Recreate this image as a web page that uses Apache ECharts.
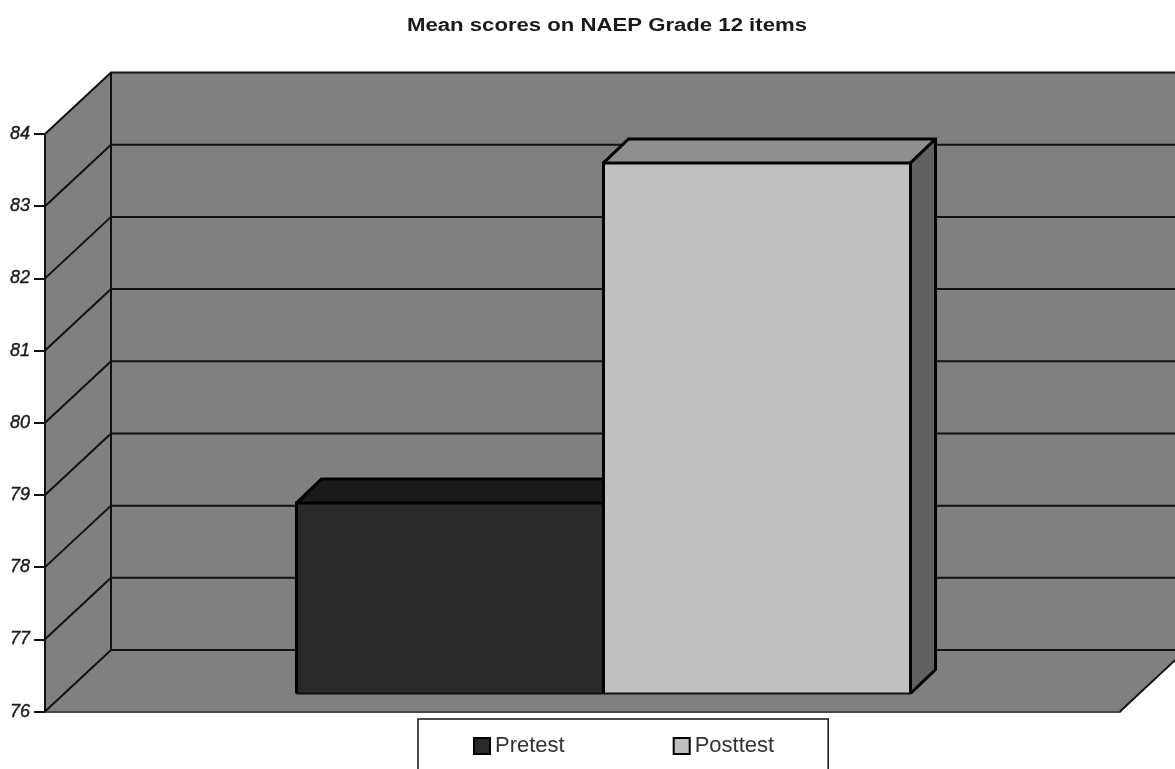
<!DOCTYPE html>
<html>
<head>
<meta charset="utf-8">
<title>Mean scores on NAEP Grade 12 items</title>
<script src="https://cdn.jsdelivr.net/npm/echarts@6/dist/echarts.min.js"></script>
<style>
  html, body { margin: 0; padding: 0; background: #fff; }
  #chart { width: 1175px; height: 769px; }
</style>
</head>
<body>
<div id="chart"></div>
<script>
const categories = ['Mean score'];
const pretest = [78.64];
const posttest = [83.35];
const tickValues = [76, 77, 78, 79, 80, 81, 82, 83, 84];

// fake 3D offsets, px
const wallDepth = [66, 61.5];
const barInset = [21, 18];
const barDepth = [25, 24];
const barShare = 307 / 1075;

const ink = '#111';

function renderWalls(params, api) {
  const band = api.size([1, 0])[0];
  const low = api.coord([0, tickValues[0]]);
  const high = api.coord([0, tickValues[tickValues.length - 1]]);
  const left = low[0] - band / 2;
  const right = left + band;
  const dx = wallDepth[0], dy = wallDepth[1];
  const fill = { fill: '#808080', stroke: null };
  const edge = { stroke: ink, lineWidth: 2 };
  return {
    type: 'group',
    children: [
      { type: 'polygon', shape: { points: [[left, high[1]], [left + dx, high[1] - dy], [left + dx, low[1] - dy], [left, low[1]]] }, style: fill },
      { type: 'polygon', shape: { points: [[left + dx, high[1] - dy], [right + dx, high[1] - dy], [right + dx, low[1] - dy], [left + dx, low[1] - dy]] }, style: fill },
      { type: 'polygon', shape: { points: [[left, low[1]], [right, low[1]], [right + dx, low[1] - dy], [left + dx, low[1] - dy]] }, style: fill },
      { type: 'line', shape: { x1: left, y1: low[1], x2: left, y2: high[1] }, style: edge },
      { type: 'line', shape: { x1: left + dx, y1: low[1] - dy, x2: left + dx, y2: high[1] - dy }, style: edge },
      { type: 'line', shape: { x1: right, y1: low[1], x2: right + dx, y2: low[1] - dy }, style: edge }
    ]
  };
}

function renderGridline(params, api) {
  const band = api.size([1, 0])[0];
  const p = api.coord([0, api.value(1)]);
  const left = p[0] - band / 2;
  const dx = wallDepth[0], dy = wallDepth[1];
  return {
    type: 'polyline',
    shape: { points: [[left, p[1]], [left + dx, p[1] - dy], [left + band + dx, p[1] - dy]] },
    style: { stroke: ink, lineWidth: 2, fill: null }
  };
}

function makeBarRender(side, front, top, flank) {
  return function (params, api) {
    const base = api.coord([api.value(0), tickValues[0]]);
    const head = api.coord([api.value(0), api.value(1)]);
    const w = api.size([1, 0])[0] * barShare;
    const x0 = base[0] + barInset[0] + (side < 0 ? -w : 0);
    const x1 = x0 + w;
    const y0 = base[1] - barInset[1];
    const y1 = head[1] - barInset[1];
    const dx = barDepth[0], dy = barDepth[1];
    const thick = { stroke: '#000', lineWidth: 3, fill: null };
    return {
      type: 'group',
      children: [
        { type: 'polygon', shape: { points: [[x1, y1], [x1 + dx, y1 - dy], [x1 + dx, y0 - dy], [x1, y0]] }, style: { fill: flank, stroke: null } },
        { type: 'polygon', shape: { points: [[x0, y1], [x0 + dx, y1 - dy], [x1 + dx, y1 - dy], [x1, y1]] }, style: { fill: top, stroke: null } },
        { type: 'polygon', shape: { points: [[x0, y0], [x1, y0], [x1, y1], [x0, y1]] }, style: { fill: front, stroke: null } },
        { type: 'polyline', shape: { points: [[x0, y0], [x0, y1], [x1, y1], [x1, y0]] }, style: thick },
        { type: 'polyline', shape: { points: [[x0, y1], [x0 + dx, y1 - dy], [x1 + dx, y1 - dy], [x1 + dx, y0 - dy], [x1, y0]] }, style: thick },
        { type: 'line', shape: { x1: x1, y1: y1, x2: x1 + dx, y2: y1 - dy }, style: { stroke: '#000', lineWidth: 3 } },
        { type: 'line', shape: { x1: x0, y1: y0, x2: x1, y2: y0 }, style: { stroke: ink, lineWidth: 2 } }
      ]
    };
  };
}

const chart = echarts.init(document.getElementById('chart'), null, { renderer: 'canvas' });
chart.setOption({
  animation: false,
  backgroundColor: '#fff',
  textStyle: { fontFamily: 'Liberation Sans' },
  // the source title is stretched sideways, so it goes in as scaled text
  graphic: [{
    type: 'text',
    x: 607,
    y: 26,
    scaleX: 1.23,
    style: {
      text: 'Mean scores on NAEP Grade 12 items',
      fontFamily: 'Liberation Sans',
      fontSize: 18,
      fontWeight: 'bold',
      fill: '#1a1a1a',
      textAlign: 'center',
      textVerticalAlign: 'middle'
    }
  }],
  grid: { left: 45, top: 134, width: 1075, height: 577.5 },
  legend: {
    data: ['Pretest', 'Posttest'],
    icon: 'rect',
    left: 418,
    top: 719,
    padding: [16, 54, 40, 55],
    itemGap: 108,
    itemWidth: 16,
    itemHeight: 16,
    borderColor: '#111',
    borderWidth: 1.5,
    textStyle: { fontFamily: 'Liberation Sans', fontSize: 22, color: '#333' }
  },
  xAxis: {
    type: 'category',
    data: categories,
    axisTick: { show: false },
    axisLabel: { show: false },
    axisLine: { show: true, lineStyle: { color: ink, width: 2.5 } },
    splitLine: { show: false }
  },
  yAxis: {
    type: 'value',
    min: 76,
    max: 84,
    interval: 1,
    axisLine: { show: false },
    axisTick: { show: true, length: 11, lineStyle: { color: ink, width: 2 } },
    axisLabel: { margin: 15, fontFamily: 'Liberation Sans', fontStyle: 'italic', fontSize: 18, color: '#1a1a1a', textBorderColor: '#1a1a1a', textBorderWidth: 0.4 },
    splitLine: { show: false }
  },
  series: [
    {
      type: 'custom', name: 'walls', z: 1, silent: true,
      renderItem: renderWalls,
      data: [[0, tickValues[0]]]
    },
    {
      type: 'custom', name: 'gridlines', z: 2, silent: true,
      renderItem: renderGridline,
      data: tickValues.map(v => [0, v])
    },
    {
      type: 'custom', name: 'Pretest', z: 3,
      itemStyle: { color: '#292929', borderColor: '#000', borderWidth: 2 },
      renderItem: makeBarRender(-1, '#292929', '#1a1a1a', '#1a1a1a'),
      data: pretest.map((v, i) => [i, v])
    },
    {
      type: 'custom', name: 'Posttest', z: 4,
      itemStyle: { color: '#c0c0c0', borderColor: '#000', borderWidth: 2 },
      renderItem: makeBarRender(1, '#c0c0c0', '#8f8f8f', '#606060'),
      data: posttest.map((v, i) => [i, v])
    }
  ]
});
</script>
</body>
</html>
